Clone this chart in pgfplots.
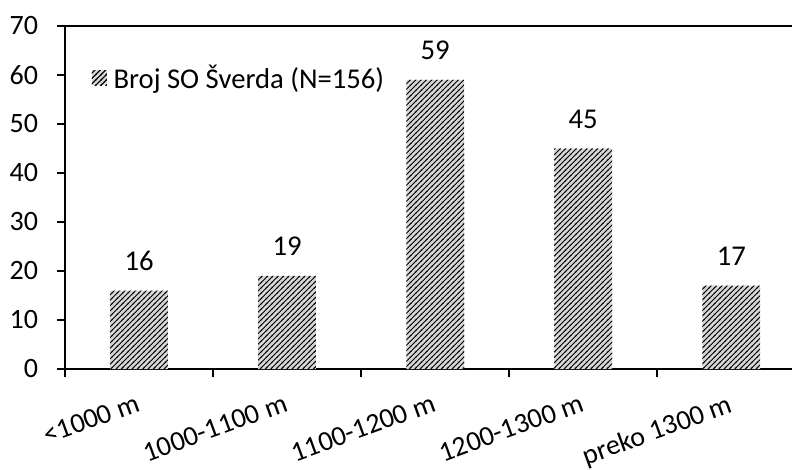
\documentclass[border=0pt]{standalone}
\usepackage{pgfplots}
\pgfplotsset{compat=1.18}
\usepackage{fontspec}
\setmainfont{Carlito}
\usetikzlibrary{patterns}
\pgfdeclarepatternformonly{densene}{\pgfqpoint{-1pt}{-1pt}}{\pgfqpoint{5pt}{5pt}}{\pgfqpoint{4pt}{4pt}}{%
  \pgfsetlinewidth{0.65pt}%
  \pgfpathmoveto{\pgfqpoint{-0.5pt}{-0.5pt}}%
  \pgfpathlineto{\pgfqpoint{4.5pt}{4.5pt}}%
  \pgfusepath{stroke}}
\definecolor{barbg}{RGB}{215,215,215}
\begin{document}
\begin{tikzpicture}
\begin{axis}[
  name=ax,
  at={(0,0)}, anchor=south west,
  scale only axis,
  width=545.25pt, height=257.25pt,
  xmin=-0.5, xmax=4.41,
  ymin=0, ymax=70,
  ytick={0,10,...,70},
  xtick={0,1,2,3,4},
  xticklabels={{<1000 m},{1000-1100 m},{1100-1200 m},{1200-1300 m},{preko 1300 m}},
  minor xtick={-0.5,0.5,1.5,2.5,3.5},
  major x tick style={draw=none},
  tick align=outside,
  major tick length=6pt,
  minor tick length=6pt,
  axis x line*=bottom,
  axis y line*=left,
  axis line style={line width=1.5pt, -},
  tick style={line width=1.2pt, black},
  every tick label/.append style={font=\fontsize{21}{24}\selectfont},
  /pgf/number format/assume math mode=true,
  yticklabel style={inner sep=0pt, xshift=-14pt},
  xticklabel style={anchor=north east, inner sep=0pt, xshift=-3pt, yshift=-12pt, rotate=20},
  ybar, bar width=0.39,
  nodes near coords,
  every node near coord/.append style={font=\fontsize{21.5}{24}\selectfont, inner sep=0pt, yshift=15pt, black},
  legend style={draw=none, fill=none, at={(axis description cs:0,1)}, anchor=north west, xshift=17pt, yshift=-25pt, font=\fontsize{21.5}{24}\selectfont},
  legend image code/.code={\fill[barbg, postaction={pattern=densene}] (0pt,-5.6pt) rectangle (11.2pt,5.6pt);},
  legend cell align=left,
  clip=false,
]
\addplot[draw=none, fill=barbg, postaction={pattern=densene}] coordinates {(0,16) (1,19) (2,59) (3,45) (4,17)};
\addlegendentry{\hspace{3pt}Broj SO Šverda (N=156)}
\draw[line width=1.2pt] (rel axis cs:0,1) -- (rel axis cs:1,1);
\end{axis}
\pgfresetboundingbox
\path[use as bounding box] (-48.75pt,-75pt) rectangle (546pt,276.75pt);
\end{tikzpicture}
\end{document}
